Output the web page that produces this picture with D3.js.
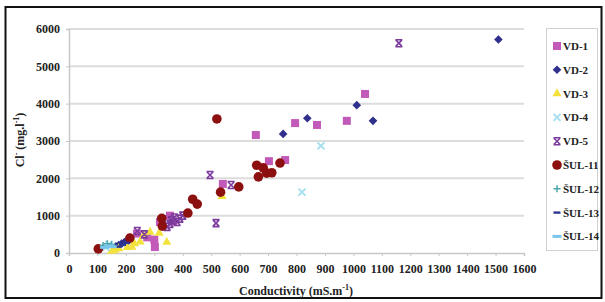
<!DOCTYPE html>
<html>
<head>
<meta charset="utf-8">
<script src="https://cdn.jsdelivr.net/npm/d3@7"></script>
<style>
body { margin: 0; background: #fff; }
svg text { font-family: "Liberation Serif", "DejaVu Serif", serif; font-weight: bold; fill: #222; }
</style>
</head>
<body>
<div id="chart"></div>
<script>
// series values [conductivity, Cl-]
var vd1 = [[239,520],[275,420],[300,360],[302,160],[320,830],[355,1000],[366,850],[541,1850],[657,3160],[703,2460],[760,2490],[795,3480],[872,3430],[977,3540],[1041,4260]];
var vd2 = [[165,180],[175,210],[185,250],[195,290],[210,330],[753,3190],[838,3610],[1012,3960],[1069,3540],[1510,5720]];
var vd3 = [[150,50],[162,80],[175,120],[205,150],[221,160],[230,250],[250,300],[262,470],[285,560],[317,530],[344,290],[538,1520]];
var vd4 = [[130,150],[140,230],[819,1630],[886,2870]];
var vd5 = [[240,590],[265,500],[330,900],[345,700],[355,780],[360,880],[370,950],[380,830],[390,920],[400,1000],[496,2090],[517,800],[570,1820],[1160,5620]];
var sul11 = [[103,110],[214,400],[326,930],[328,720],[418,1070],[435,1440],[451,1310],[520,3590],[533,1630],[597,1770],[660,2350],[666,2040],[683,2280],[695,2140],[713,2150],[742,2410]];
var sul12 = [[120,200],[135,250],[150,230]];
var sul13 = [[172,170],[188,220],[200,270]];
var sul14 = [[125,150],[140,190],[152,170]];

var seriesNames = ["VD-1","VD-2","VD-3","VD-4","VD-5","ŠUL-11","ŠUL-12","ŠUL-13","ŠUL-14"];
var seriesData = [vd1, vd2, vd3, vd4, vd5, sul11, sul12, sul13, sul14];
var xTicks = d3.range(0, 1601, 100);
var yTicks = d3.range(0, 6001, 1000);

var colors = ["#c25ab9","#2f2f8c","#f3e23c","#a6dff0","#7b3a9c","#8c1010","#4aa6a8","#2f3592","#78c6ec"];
var shapes = ["square","diamond","triangle","x","xbar","circle","plus","dash","dash2"];

var W = 605, H = 302;
var svg = d3.select("#chart").append("svg").attr("width", W).attr("height", H);

// outer frame
svg.append("rect").attr("x", 5.5).attr("y", 7).attr("width", 596).attr("height", 291)
  .attr("fill", "none").attr("stroke", "#111").attr("stroke-width", 2);

var x = d3.scaleLinear().domain([0, 1600]).range([69, 524]);
var y = d3.scaleLinear().domain([0, 6000]).range([253, 29]);

// gridlines
svg.append("g").selectAll("line").data(yTicks.slice(1)).enter().append("line")
  .attr("x1", x(0)).attr("x2", x(1600))
  .attr("y1", function(d){ return y(d); }).attr("y2", function(d){ return y(d); })
  .attr("stroke", "#dcdcdc").attr("stroke-width", 2);

// axes
var xAxis = svg.append("g").attr("transform", "translate(0," + y(0) + ")")
  .call(d3.axisBottom(x).tickValues(xTicks).tickSize(3).tickPadding(8).tickFormat(d3.format("d")));
var yAxis = svg.append("g").attr("transform", "translate(" + x(0) + ",0)")
  .call(d3.axisLeft(y).tickValues(yTicks).tickSize(3).tickPadding(6).tickFormat(d3.format("d")));
[xAxis, yAxis].forEach(function(a){
  a.select(".domain").attr("stroke", "#c8c8c8").attr("stroke-width", 1.5);
  a.selectAll(".tick line").attr("stroke", "#c8c8c8");
  a.selectAll("text").attr("font-size", 12).attr("fill", "#222")
    .attr("font-family", "Liberation Serif").attr("font-weight", "bold");
});

// axis titles
svg.append("text").attr("x", 296).attr("y", 295).attr("text-anchor", "middle").attr("font-size", 12)
  .html('Conductivity (mS.m<tspan dy="-5" font-size="8">-1</tspan><tspan dy="5">)</tspan>');
svg.append("text").attr("transform", "translate(24,140) rotate(-90)").attr("text-anchor", "middle").attr("font-size", 12)
  .html('Cl<tspan dy="-5" font-size="8">-</tspan><tspan dy="5"> (mg.l</tspan><tspan dy="-5" font-size="8">-1</tspan><tspan dy="5">)</tspan>');

function drawMarker(g, shape, color) {
  if (shape == "square") {
    g.append("rect").attr("x", -4).attr("y", -4).attr("width", 8).attr("height", 8).attr("fill", color);
  } else if (shape == "diamond") {
    g.append("path").attr("d", "M0,-4.3L4.3,0L0,4.3L-4.3,0Z").attr("fill", color);
  } else if (shape == "triangle") {
    g.append("path").attr("d", d3.symbol().type(d3.symbolTriangle).size(36)).attr("fill", color);
  } else if (shape == "circle") {
    g.append("circle").attr("r", 4.8).attr("fill", color);
  } else if (shape == "x") {
    g.append("path").attr("d", "M-3.5,-3.5L3.5,3.5M-3.5,3.5L3.5,-3.5").attr("stroke", color).attr("stroke-width", 2).attr("fill", "none");
  } else if (shape == "xbar") {
    g.append("path").attr("d", "M-3,-3L3,3M-3,3L3,-3M-3.5,-3.5H3.5M-3.5,3.5H3.5").attr("stroke", color).attr("stroke-width", 1.6).attr("fill", "none");
  } else if (shape == "plus") {
    g.append("path").attr("d", "M-3.5,0H3.5M0,-3.5V3.5").attr("stroke", color).attr("stroke-width", 1.5).attr("fill", "none");
  } else if (shape == "dash") {
    g.append("rect").attr("x", -3.5).attr("y", -1.2).attr("width", 7).attr("height", 2.4).attr("fill", color);
  } else if (shape == "dash2") {
    g.append("rect").attr("x", -4.5).attr("y", -1.5).attr("width", 9).attr("height", 3).attr("fill", color);
  }
}

// points
seriesData.forEach(function(data, i){
  var grp = svg.append("g");
  data.forEach(function(p){
    var g = grp.append("g").attr("transform", "translate(" + x(p[0]) + "," + y(p[1]) + ")");
    drawMarker(g, shapes[i], colors[i]);
  });
});

// legend
var leg = svg.append("g");
leg.append("rect").attr("x", 546.5).attr("y", 28.5).attr("width", 51).attr("height", 222)
  .attr("fill", "#fff").attr("stroke", "#d0d0d0");
seriesNames.forEach(function(name, i){
  var ly = 46 + i * 23.8;
  var g = leg.append("g").attr("transform", "translate(557," + ly + ")");
  drawMarker(g, shapes[i], colors[i]);
  leg.append("text").attr("x", 563).attr("y", ly + 4).attr("font-size", 11).text(name);
});
</script>
</body>
</html>
